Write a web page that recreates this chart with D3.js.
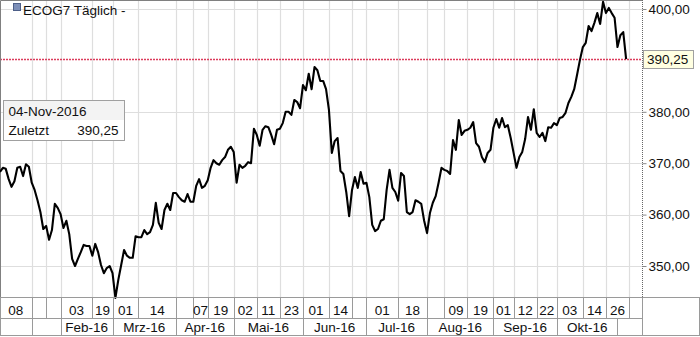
<!DOCTYPE html>
<html lang="de">
<head>
  <meta charset="UTF-8">
  <title>ECOG7 Täglich</title>
  <script src="https://d3js.org/d3.v7.min.js"></script>
  <style>
    body { margin: 0; background: #fff; }
    text {
      font-family: "Liberation Sans", Arial, sans-serif;
      font-size: 13.5px;
      fill: #111;
    }
    .grid { stroke: #dedede; stroke-width: 1.2px; }
    .cell { stroke: #9a9a9a; stroke-width: 1px; }
  </style>
</head>
<body>
  <script>
    // Tagesschlusskurse, Dez-15 bis 04-Nov-2016
    const values = [
      368.3, 369.1, 368.9, 366.9, 365.4, 366.5, 369.1, 369.3, 367.5, 369.8,
      369.3, 366.2, 364.8, 362.8, 360.5, 357.2, 357.8, 355.1, 357.0, 362.1,
      361.3, 360.1, 357.4, 358.8, 356.2, 351.4, 350.0, 351.4, 352.7, 354.1,
      353.9, 353.9, 352.0, 354.3, 352.7, 350.2, 348.6, 349.6, 350.0, 348.6,
      343.8, 347.3, 350.2, 353.1, 352.0, 351.6, 351.6, 355.8, 355.6, 355.6,
      357.0, 356.2, 356.6, 358.0, 362.3, 358.4, 357.2, 360.9, 362.1, 360.9,
      364.2, 364.2, 363.4, 362.8, 362.5, 364.0, 362.5, 362.5, 365.6, 366.9,
      365.2, 365.6, 366.7, 369.1, 370.6, 370.0, 369.7, 370.6, 371.2, 372.6,
      373.2, 372.2, 366.2, 369.7, 369.1, 369.5, 370.2, 370.0, 376.7, 375.5,
      373.4, 376.5, 377.2, 377.0, 375.5, 373.7, 376.5, 376.7, 377.8, 380.0,
      380.0, 379.4, 382.3, 381.9, 380.7, 385.2, 384.2, 387.4, 384.4, 388.7,
      388.1, 386.0, 386.0, 384.4, 380.4, 372.0, 374.3, 374.9, 368.5, 367.9,
      364.4, 359.7, 364.8, 367.3, 365.2, 368.3, 366.0, 366.2, 363.4, 358.0,
      356.8, 357.2, 358.8, 359.1, 364.8, 368.7, 365.2, 364.4, 362.7, 368.1,
      367.5, 360.5, 360.1, 360.5, 362.8, 362.5, 362.1, 358.8, 356.4, 360.3,
      362.3, 363.6, 366.2, 369.1, 368.7, 368.5, 367.9, 374.5, 372.6, 378.4,
      375.5, 376.3, 376.5, 376.9, 378.0, 373.9, 373.2, 371.2, 370.2, 372.0,
      372.6, 376.9, 378.6, 376.9, 378.8, 377.0, 377.4, 374.9, 372.0, 369.1,
      371.2, 372.2, 374.7, 379.0, 376.5, 380.5, 375.9, 375.1, 375.9, 374.3,
      377.0, 376.9, 377.8, 377.4, 378.8, 379.0, 379.8, 381.7, 382.9, 384.4,
      387.2, 390.1, 392.6, 393.4, 396.7, 395.7, 397.3, 399.2, 397.1, 401.4,
      399.2, 400.2, 399.2, 398.3, 392.6, 394.9, 395.5, 390.25
    ];

    // Achsen: Index des Handelstags und Beschriftung
    const dayTickIdx = [0, 11, 16, 21, 32, 39, 48, 61, 67, 72, 81, 89, 97, 105, 114, 122, 127, 138, 148, 154, 162, 171, 178, 186, 193, 202, 210, 218];
    const dayTickLabels = ["08", "", "", "03", "19", "01", "14", "", "07", "19", "02", "11", "23", "01", "14", "", "01", "18", "", "09", "19", "01", "12", "22", "03", "14", "26", ""];
    const monthIdx = [0, 11, 21, 39, 61, 81, 105, 127, 148, 171, 193, 214];
    const monthLabels = ["", "", "Feb-16", "Mrz-16", "Apr-16", "Mai-16", "Jun-16", "Jul-16", "Aug-16", "Sep-16", "Okt-16", ""];
    const yTicks = [350, 360, 370, 380, 390, 400];
    const lastDate = "04-Nov-2016";
    const lastValue = 390.25;
    const title = "ECOG7 Täglich -";

    const width = 700, height = 337;
    const plotW = 642, plotH = 297;
    const xEnd = 222.5;

    const fmt = v => d3.format(".2f")(v).replace(".", ",");

    const svg = d3.select('body').append('svg')
      .attr('width', width)
      .attr('height', height);

    const x = d3.scaleLinear().domain([0, xEnd]).range([0, plotW]);
    const y = d3.scaleLinear().domain([343.97, 401.75]).range([plotH, 0]);

    // Gitter
    svg.append('g')
      .selectAll('line')
      .data(dayTickIdx.slice(1))
      .enter().append('line')
      .attr('class', 'grid')
      .attr('x1', d => Math.round(x(d)) + 0.5)
      .attr('x2', d => Math.round(x(d)) + 0.5)
      .attr('y1', 0)
      .attr('y2', plotH);

    svg.append('g')
      .selectAll('line')
      .data(yTicks.filter(d => d !== 390))
      .enter().append('line')
      .attr('class', 'grid')
      .attr('x1', 0)
      .attr('x2', plotW)
      .attr('y1', d => Math.round(y(d)) + 0.5)
      .attr('y2', d => Math.round(y(d)) + 0.5);

    // letzter Kurs, gepunktet
    svg.append('line')
      .attr('x1', 0).attr('x2', plotW)
      .attr('y1', Math.round(y(lastValue)) + 0.5)
      .attr('y2', Math.round(y(lastValue)) + 0.5)
      .style('stroke', '#dc3c5c')
      .style('stroke-width', '1.5px')
      .style('stroke-dasharray', '2,1');

    // Rahmen links/oben
    svg.append('path')
      .attr('d', `M0.5,${plotH}V0.5H${plotW}`)
      .attr('fill', 'none')
      .attr('stroke', '#808080');

    // Kurslinie
    const line = d3.line()
      .x((d, i) => x(i))
      .y(d => y(d));

    svg.append('path')
      .datum(values)
      .attr('fill', 'none')
      .attr('stroke', '#000')
      .attr('stroke-width', 2.1)
      .attr('stroke-linejoin', 'round')
      .attr('d', line);

    // rechte Achse
    const yAxis = d3.axisRight(y)
      .tickValues(yTicks)
      .tickSize(4)
      .tickPadding(2)
      .tickFormat(fmt);

    const ya = svg.append('g')
      .attr('transform', `translate(${plotW + 0.5},0)`)
      .call(yAxis);
    ya.select('.domain')
      .attr('d', `M0,0V${plotH}`)
      .attr('stroke', '#666')
      .attr('stroke-dasharray', '1,1');
    ya.selectAll('.tick line').attr('stroke', '#888');
    ya.selectAll('.tick text')
      .attr('fill', '#111')
      .style('font-family', '"Liberation Sans", Arial, sans-serif')
      .style('font-size', '13.5px');

    // Kursmarke
    const ly = y(lastValue);
    svg.append('rect')
      .attr('x', plotW + 1.5).attr('y', Math.round(ly) - 8.5)
      .attr('width', 50).attr('height', 18)
      .attr('fill', '#ffffe1')
      .attr('stroke', '#a0a0a0');
    svg.append('text')
      .attr('x', plotW + 5).attr('y', ly + 5)
      .text(fmt(lastValue));

    // Zeitachse, zwei Zeilen
    const r1 = plotH + 0.5, r2 = 318.5, r3 = 335.5;
    const ax = svg.append('g');

    ax.append('line').attr('class', 'cell').attr('x1', 0).attr('x2', width).attr('y1', r1).attr('y2', r1);
    ax.append('line').attr('class', 'cell').attr('x1', 0).attr('x2', plotW).attr('y1', r2).attr('y2', r2);
    ax.append('line').attr('class', 'cell').attr('x1', 0).attr('x2', width).attr('y1', r3).attr('y2', r3);
    ax.append('line').attr('class', 'cell').attr('x1', plotW + 0.5).attr('x2', plotW + 0.5).attr('y1', r1).attr('y2', r3);
    ax.append('line').attr('class', 'cell').attr('x1', width - 0.5).attr('x2', width - 0.5).attr('y1', r1).attr('y2', r3);

    function cellRow(idx, labels, top, bottom) {
      ax.append('g')
        .selectAll('line')
        .data(idx)
        .enter().append('line')
        .attr('class', 'cell')
        .attr('x1', d => Math.round(x(d)) + 0.5)
        .attr('x2', d => Math.round(x(d)) + 0.5)
        .attr('y1', top).attr('y2', bottom);

      ax.append('g')
        .selectAll('text')
        .data(idx)
        .enter().append('text')
        .attr('text-anchor', 'middle')
        .attr('x', (d, i) => (x(d) + x(i + 1 < idx.length ? idx[i + 1] : xEnd)) / 2)
        .attr('y', bottom - 3.5)
        .text((d, i) => labels[i]);
    }
    cellRow(dayTickIdx, dayTickLabels, r1, r2);
    cellRow(monthIdx, monthLabels, r2, r3);

    // Info-Box
    const box = svg.append('g').attr('transform', 'translate(3.5,100.5)');
    box.append('rect').attr('width', 121).attr('height', 40)
      .attr('fill', '#fff').attr('stroke', '#a0a0a0');
    box.append('rect').attr('x', 0.5).attr('y', 0.5).attr('width', 120).attr('height', 19)
      .attr('fill', '#f3f3f3');
    box.append('text').attr('x', 5).attr('y', 15.5).text(lastDate);
    box.append('text').attr('x', 5).attr('y', 34.5).text('Zuletzt');
    box.append('text').attr('x', 115).attr('y', 34.5).attr('text-anchor', 'end').text(fmt(lastValue));

    // Titel
    svg.append('rect').attr('x', 13.5).attr('y', 3.5).attr('width', 7).attr('height', 7)
      .attr('fill', '#7d8fb8').attr('stroke', '#4d5f88');
    svg.append('text').attr('x', 23).attr('y', 15).text(title);
  </script>
</body>
</html>
